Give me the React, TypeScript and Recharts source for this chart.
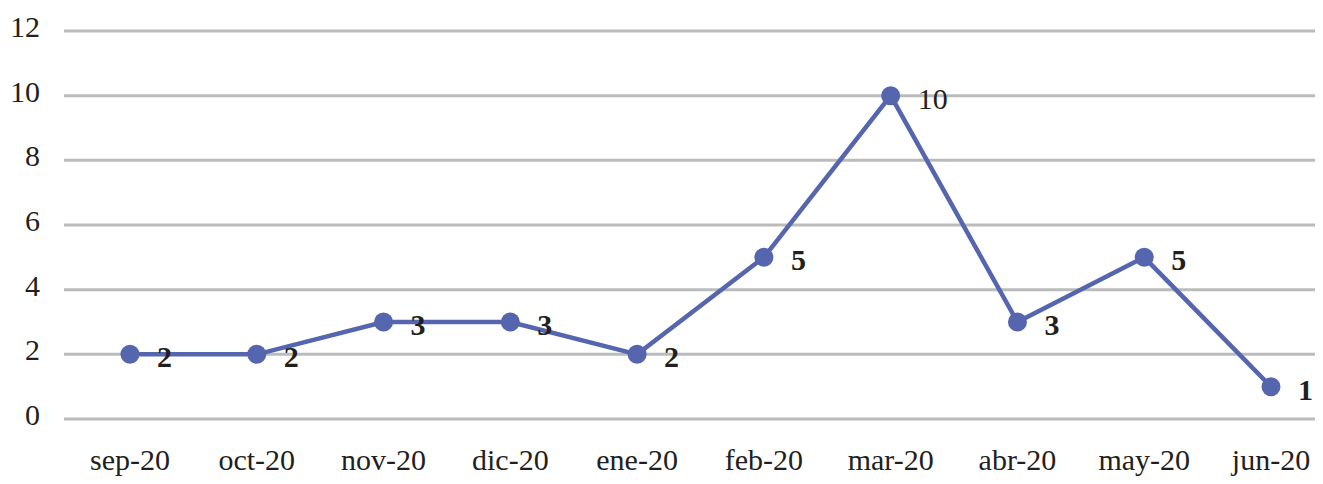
import React from 'react';
import { LineChart, Line, XAxis, YAxis, CartesianGrid, LabelList } from 'recharts';

const months = ['sep-20', 'oct-20', 'nov-20', 'dic-20', 'ene-20', 'feb-20', 'mar-20', 'abr-20', 'may-20', 'jun-20'];
const counts = [2, 2, 3, 3, 2, 5, 10, 3, 5, 1];
const yTicks = [0, 2, 4, 6, 8, 10, 12];

const data = months.map((m, i) => ({ month: m, value: counts[i] }));

const FONT = '"Liberation Serif", "Times New Roman", serif';
const INK = '#231f20';
const BLUE = '#5565ae';

const XTick = (props: any) => {
  const { x, y, payload } = props;
  return (
    <text x={x} y={y + 43} textAnchor="middle" fontFamily={FONT} fontSize={30} fill={INK}>
      {payload.value}
    </text>
  );
};

const YTick = (props: any) => {
  const { x, y, payload } = props;
  return (
    <text x={x} y={y + 6} textAnchor="end" fontFamily={FONT} fontSize={30} fill={INK}>
      {payload.value}
    </text>
  );
};

const PointLabel = (props: any) => {
  const { x, y, value } = props;
  // the peak label is set in regular weight in the original
  const bold = value !== 10;
  return (
    <text
      x={x + 27}
      y={y + 13}
      fontFamily={FONT}
      fontSize={30}
      fontWeight={bold ? 'bold' : 'normal'}
      fill={INK}
    >
      {value}
    </text>
  );
};

const App: React.FC = () => {
  return (
    <div style={{ margin: -8, width: 1323, height: 484, overflow: 'hidden', background: '#fff' }}>
      <LineChart width={1340} height={484} data={data} margin={{ top: 31, right: 5, left: 0, bottom: 0 }}>
        <CartesianGrid vertical={false} stroke="#b9bcbb" strokeWidth={3} />
        <XAxis
          dataKey="month"
          axisLine={false}
          tickLine={false}
          tick={<XTick />}
          height={65}
          interval={0}
          padding={{ left: 66, right: 64 }}
        />
        <YAxis
          domain={[0, 12]}
          ticks={yTicks}
          axisLine={false}
          tickLine={false}
          tickSize={0}
          tickMargin={24}
          tick={<YTick />}
          width={64}
          interval={0}
        />
        <Line
          type="linear"
          dataKey="value"
          stroke={BLUE}
          strokeWidth={4.5}
          dot={{ r: 9.5, fill: BLUE, stroke: BLUE, strokeWidth: 0 }}
          isAnimationActive={false}
        >
          <LabelList dataKey="value" content={<PointLabel />} />
        </Line>
      </LineChart>
    </div>
  );
};

export default App;
